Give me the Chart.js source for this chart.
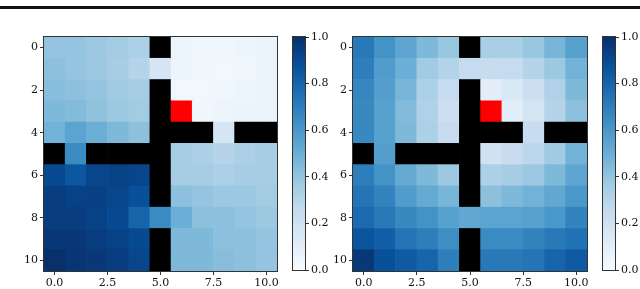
<!DOCTYPE html>
<html>
<head>
<meta charset="utf-8">
<script src="https://cdn.jsdelivr.net/npm/chart.js@4.4.0/dist/chart.umd.min.js"></script>
<style>
  html, body { margin:0; padding:0; background:#fff; }
  #wrap { position:relative; width:640px; height:289px; overflow:hidden; background:#fff; }
  #wrap canvas { position:absolute; top:0; }
  #rule { position:absolute; left:0; top:6px; width:640px; height:3px; background:#111; }
</style>
</head>
<body>
<div id="wrap">
  <div id="rule"></div>
  <canvas id="heatLeft" width="290" height="289" style="left:0"></canvas>
  <canvas id="barLeft" width="52" height="289" style="left:280px"></canvas>
  <canvas id="heatRight" width="280" height="289" style="left:320px"></canvas>
  <canvas id="barRight" width="50" height="289" style="left:590px"></canvas>
</div>
<script>
// grid axes
const xTicks = [0, 2.5, 5, 7.5, 10];
const yTicks = [0, 2, 4, 6, 8, 10];
const barTicks = [0, 0.2, 0.4, 0.6, 0.8, 1.0];
const goalCell = { row: 3, col: 6 };

// null = wall (black)
const valuesLeft = [
  [0.40, 0.40, 0.38, 0.36, 0.33, null, 0.05, 0.04, 0.04, 0.05, 0.06],
  [0.42, 0.40, 0.38, 0.35, 0.30, 0.17, 0.05, 0.04, 0.03, 0.04, 0.06],
  [0.43, 0.42, 0.40, 0.37, 0.35, null, 0.03, 0.03, 0.04, 0.05, 0.06],
  [0.45, 0.44, 0.41, 0.38, 0.36, null, null, 0.04, 0.05, 0.06, 0.06],
  [0.48, 0.55, 0.50, 0.45, 0.42, null, null, null, 0.17, null, null],
  [null, 0.65, null, null, null, null, 0.35, 0.33, 0.30, 0.33, 0.35],
  [0.90, 0.85, 0.92, 0.93, 0.92, null, 0.35, 0.35, 0.33, 0.35, 0.35],
  [0.95, 0.93, 0.94, 0.92, 0.88, null, 0.42, 0.40, 0.38, 0.38, 0.36],
  [0.95, 0.95, 0.93, 0.90, 0.80, 0.65, 0.50, 0.42, 0.42, 0.40, 0.38],
  [0.97, 0.97, 0.95, 0.93, 0.90, null, 0.45, 0.45, 0.42, 0.42, 0.40],
  [1.00, 0.98, 0.97, 0.95, 0.92, null, 0.45, 0.45, 0.43, 0.42, 0.40]
];
const valuesRight = [
  [0.72, 0.62, 0.54, 0.45, 0.39, null, 0.34, 0.34, 0.39, 0.47, 0.56],
  [0.70, 0.58, 0.50, 0.37, 0.31, 0.25, 0.24, 0.25, 0.30, 0.38, 0.48],
  [0.67, 0.57, 0.47, 0.33, 0.25, null, 0.10, 0.15, 0.22, 0.32, 0.45],
  [0.66, 0.56, 0.44, 0.32, 0.22, null, null, 0.11, 0.18, 0.30, 0.42],
  [0.66, 0.56, 0.45, 0.33, 0.25, null, null, null, 0.24, null, null],
  [null, 0.57, null, null, null, null, 0.20, 0.24, 0.28, 0.37, 0.48],
  [0.70, 0.62, 0.52, 0.45, 0.38, null, 0.33, 0.35, 0.38, 0.45, 0.54],
  [0.74, 0.68, 0.58, 0.52, 0.47, null, 0.42, 0.45, 0.48, 0.53, 0.60],
  [0.78, 0.72, 0.66, 0.62, 0.56, 0.53, 0.55, 0.55, 0.56, 0.60, 0.68],
  [0.86, 0.82, 0.74, 0.70, 0.64, null, 0.65, 0.65, 0.68, 0.72, 0.75],
  [0.97, 0.88, 0.84, 0.80, 0.70, null, 0.72, 0.72, 0.74, 0.80, 0.84]
];

// matplotlib "Blues"
const blueStops = [
  [0, [247,251,255]], [0.125, [222,235,247]], [0.25, [198,219,239]],
  [0.375, [158,202,225]], [0.5, [107,174,214]], [0.625, [66,146,198]],
  [0.75, [33,113,181]], [0.875, [8,81,156]], [1, [8,48,107]]
];
function blues(v){
  v = Math.max(0, Math.min(1, v));
  for (let i = 1; i < blueStops.length; i++) {
    const [t1, c1] = blueStops[i];
    if (v <= t1) {
      const [t0, c0] = blueStops[i-1];
      const f = (v - t0) / (t1 - t0);
      const c = c0.map((a, k) => Math.round(a + (c1[k] - a) * f));
      return `rgb(${c[0]},${c[1]},${c[2]})`;
    }
  }
  return 'rgb(8,48,107)';
}

Chart.defaults.font.family = "'DejaVu Serif', serif";
Chart.defaults.font.size = 11;
Chart.defaults.color = '#111';
Chart.defaults.animation = false;

const framePlugin = {
  id: 'frame',
  afterDatasetsDraw(chart){
    const { ctx, chartArea: a } = chart;
    ctx.save();
    ctx.strokeStyle = '#333';
    ctx.lineWidth = 1;
    ctx.strokeRect(Math.round(a.left) - 0.5, Math.round(a.top) - 0.5, Math.round(a.width) + 1, Math.round(a.height) + 1);
    ctx.restore();
  }
};

function cellsOf(grid){
  const pts = [];
  grid.forEach((row, r) => row.forEach((v, c) => pts.push({ x: c, y: [r - 0.5, r + 0.5], v, r })));
  return pts;
}

function cellColor(ctx){
  const p = ctx.raw;
  if (!p) return '#000';
  if (p.r === goalCell.row && p.x === goalCell.col) return '#ff0000';
  if (p.v === null) return '#000';
  return blues(p.v);
}

const tickGrid = { display: true, drawOnChartArea: false, drawTicks: true, tickLength: 4, color: '#333', offset: false };

function heatmap(id, grid, yAxisWidth, padRight){
  new Chart(document.getElementById(id), {
    type: 'bar',
    data: { datasets: [{ data: cellsOf(grid), backgroundColor: cellColor, borderWidth: 0, barPercentage: 1, categoryPercentage: 1 }] },
    options: {
      responsive: false,
      devicePixelRatio: 1,
      layout: { padding: { left: 0, top: 37, right: padRight, bottom: 0 } },
      plugins: { legend: { display: false }, tooltip: { enabled: false } },
      scales: {
        x: {
          type: 'linear', min: -0.5, max: 10.5, offset: false,
          afterBuildTicks: s => { s.ticks = xTicks.map(v => ({ value: v })); },
          afterFit: s => { s.height = 18; },
          grid: tickGrid, border: { display: false },
          ticks: { padding: 2, maxRotation: 0, autoSkip: false, callback: v => v.toFixed(1) }
        },
        y: {
          type: 'linear', reverse: true, min: -0.5, max: 10.5, beginAtZero: false,
          afterBuildTicks: s => { s.ticks = yTicks.map(v => ({ value: v })); },
          afterFit: s => { s.width = yAxisWidth; },
          grid: tickGrid, border: { display: false },
          ticks: { padding: 2, autoSkip: false, callback: v => String(v) }
        }
      }
    },
    plugins: [framePlugin]
  });
}

function colorbar(id, padLeft, axisWidth){
  new Chart(document.getElementById(id), {
    type: 'bar',
    data: {
      labels: [''],
      datasets: [{
        data: [[0, 1]],
        borderWidth: 0, barPercentage: 1, categoryPercentage: 1,
        backgroundColor: ctx => {
          const a = ctx.chart.chartArea;
          if (!a) return null;
          const g = ctx.chart.ctx.createLinearGradient(0, a.bottom, 0, a.top);
          blueStops.forEach(([t, c]) => g.addColorStop(t, `rgb(${c[0]},${c[1]},${c[2]})`));
          return g;
        }
      }]
    },
    options: {
      responsive: false,
      devicePixelRatio: 1,
      layout: { padding: { left: padLeft, top: 37, right: 0, bottom: 19 } },
      plugins: { legend: { display: false }, tooltip: { enabled: false } },
      scales: {
        x: { display: false },
        y: {
          position: 'right', min: 0, max: 1,
          afterBuildTicks: s => { s.ticks = barTicks.map(v => ({ value: v })); },
          afterFit: s => { s.width = axisWidth; },
          grid: tickGrid, border: { display: false },
          ticks: { padding: 2, callback: v => v.toFixed(1) }
        }
      }
    },
    plugins: [framePlugin]
  });
}

heatmap('heatLeft', valuesLeft, 44, 13);
heatmap('heatRight', valuesRight, 33, 13);
colorbar('barLeft', 13, 27);
colorbar('barRight', 13, 25);
</script>
</body>
</html>
